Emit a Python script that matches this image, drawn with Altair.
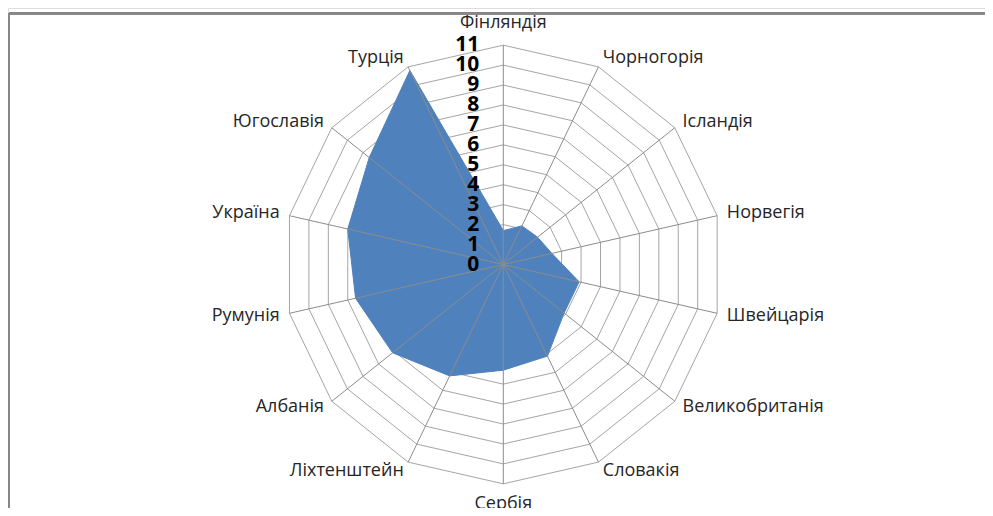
import math
import pandas as pd
import altair as alt

categories = ["Фінляндія", "Чорногорія", "Ісландія", "Норвегія", "Швейцарія",
              "Великобританія", "Словакія", "Сербія", "Ліхтенштейн", "Албанія",
              "Румунія", "Україна", "Югославія", "Турція"]
values = [1.7, 2.15, 2.2, 2.5, 3.9, 3.9, 5.1, 5.3, 6.2, 7.1, 7.6, 8.0, 8.6, 10.8]
ticks = list(range(0, 12))

N = len(categories)
RMAX = 11
U = 19.94          # pixels per unit
W, H = 977, 500
CX, CY = 495.3, 256.5

def ang(i):
    return 2 * math.pi * i / N

# data polygon
poly = pd.DataFrame({
    "cat": categories,
    "i": list(range(N)),
    "v": values,
})
poly["x"] = [v * math.sin(ang(i)) for i, v in zip(poly.i, poly.v)]
poly["y"] = [v * math.cos(ang(i)) for i, v in zip(poly.i, poly.v)]

# rings
rows = []
for r in ticks[1:]:
    for k in range(N + 1):
        rows.append({"ring": r, "k": k,
                     "x": r * math.sin(ang(k % N)), "y": r * math.cos(ang(k % N))})
rings = pd.DataFrame(rows)

# spokes
spokes = pd.DataFrame({
    "i": list(range(N)),
    "x": [0.0] * N, "y": [0.0] * N,
    "x2": [RMAX * math.sin(ang(i)) for i in range(N)],
    "y2": [RMAX * math.cos(ang(i)) for i in range(N)],
})

# category labels
lab = pd.DataFrame({"cat": categories, "i": list(range(N))})
lab["s"] = [math.sin(ang(i)) for i in lab.i]
lab["c"] = [math.cos(ang(i)) for i in lab.i]
lab["rr"] = [(12.1 if c > 0 else 12.0) if abs(s) < 0.1 else 11.5
             for s, c in zip(lab.s, lab.c)]
lab["x"] = lab.rr * lab.s
lab["y"] = lab.rr * lab.c

tickdf = pd.DataFrame({"t": ticks, "lbl": [str(t) for t in ticks]})
tickdf["x"] = -1.2
tickdf["y"] = tickdf["t"]

xs = alt.Scale(domain=[-CX / U, (W - CX) / U], nice=False, zero=False)
ys = alt.Scale(domain=[-(H - CY) / U, CY / U], nice=False, zero=False)
X = lambda f="x": alt.X(f"{f}:Q", scale=xs, axis=None)
Y = lambda f="y": alt.Y(f"{f}:Q", scale=ys, axis=None)

grid_color = "#a5a5a5"

ring_layer = alt.Chart(rings).mark_line(color=grid_color, strokeWidth=1).encode(
    x=X(), y=Y(), detail="ring:N", order="k:Q")

fill_layer = alt.Chart(poly).mark_line(
    interpolate="linear-closed", fill="#4F81BD", stroke="#4F81BD", strokeWidth=1,
).encode(x=X(), y=Y(), order="i:Q")

spoke_layer = alt.Chart(spokes).mark_rule(color="#8c8c8c", strokeWidth=1).encode(
    x=X(), y=Y(), x2="x2:Q", y2="y2:Q")

font = "Open Sans"
lab_style = dict(font=font, fontSize=18, color="#262626", baseline="middle")
lab_right = alt.Chart(lab).transform_filter("datum.s > 0.1").mark_text(
    align="left", **lab_style).encode(x=X(), y=Y(), text="cat:N")
lab_left = alt.Chart(lab).transform_filter("datum.s < -0.1").mark_text(
    align="right", **lab_style).encode(x=X(), y=Y(), text="cat:N")
lab_mid = alt.Chart(lab).transform_filter("abs(datum.s) <= 0.1").mark_text(
    align="center", **lab_style).encode(x=X(), y=Y(), text="cat:N")

tick_layer = alt.Chart(tickdf).mark_text(
    align="right", baseline="middle", font=font, fontSize=21, fontWeight="bold",
    color="#000000").encode(x=X(), y=Y(), text="lbl:N")

frame_top = alt.Chart(tickdf).mark_rule(color="#868686", strokeWidth=2).encode(
    x=alt.value(1), x2=alt.value(W), y=alt.value(5.3))
frame_left = alt.Chart(tickdf).mark_rule(color="#868686", strokeWidth=2).encode(
    x=alt.value(1), y=alt.value(5.3), y2=alt.value(H))

chart = alt.layer(
    ring_layer, fill_layer, spoke_layer, lab_right, lab_left, lab_mid,
    tick_layer, frame_top, frame_left,
).properties(
    width=W, height=H, padding=0, autosize=alt.AutoSizeParams(type="none"),
).configure_view(stroke=None).configure(background="white")

chart.save("out.html", embed_options={"renderer": "svg", "actions": False})
